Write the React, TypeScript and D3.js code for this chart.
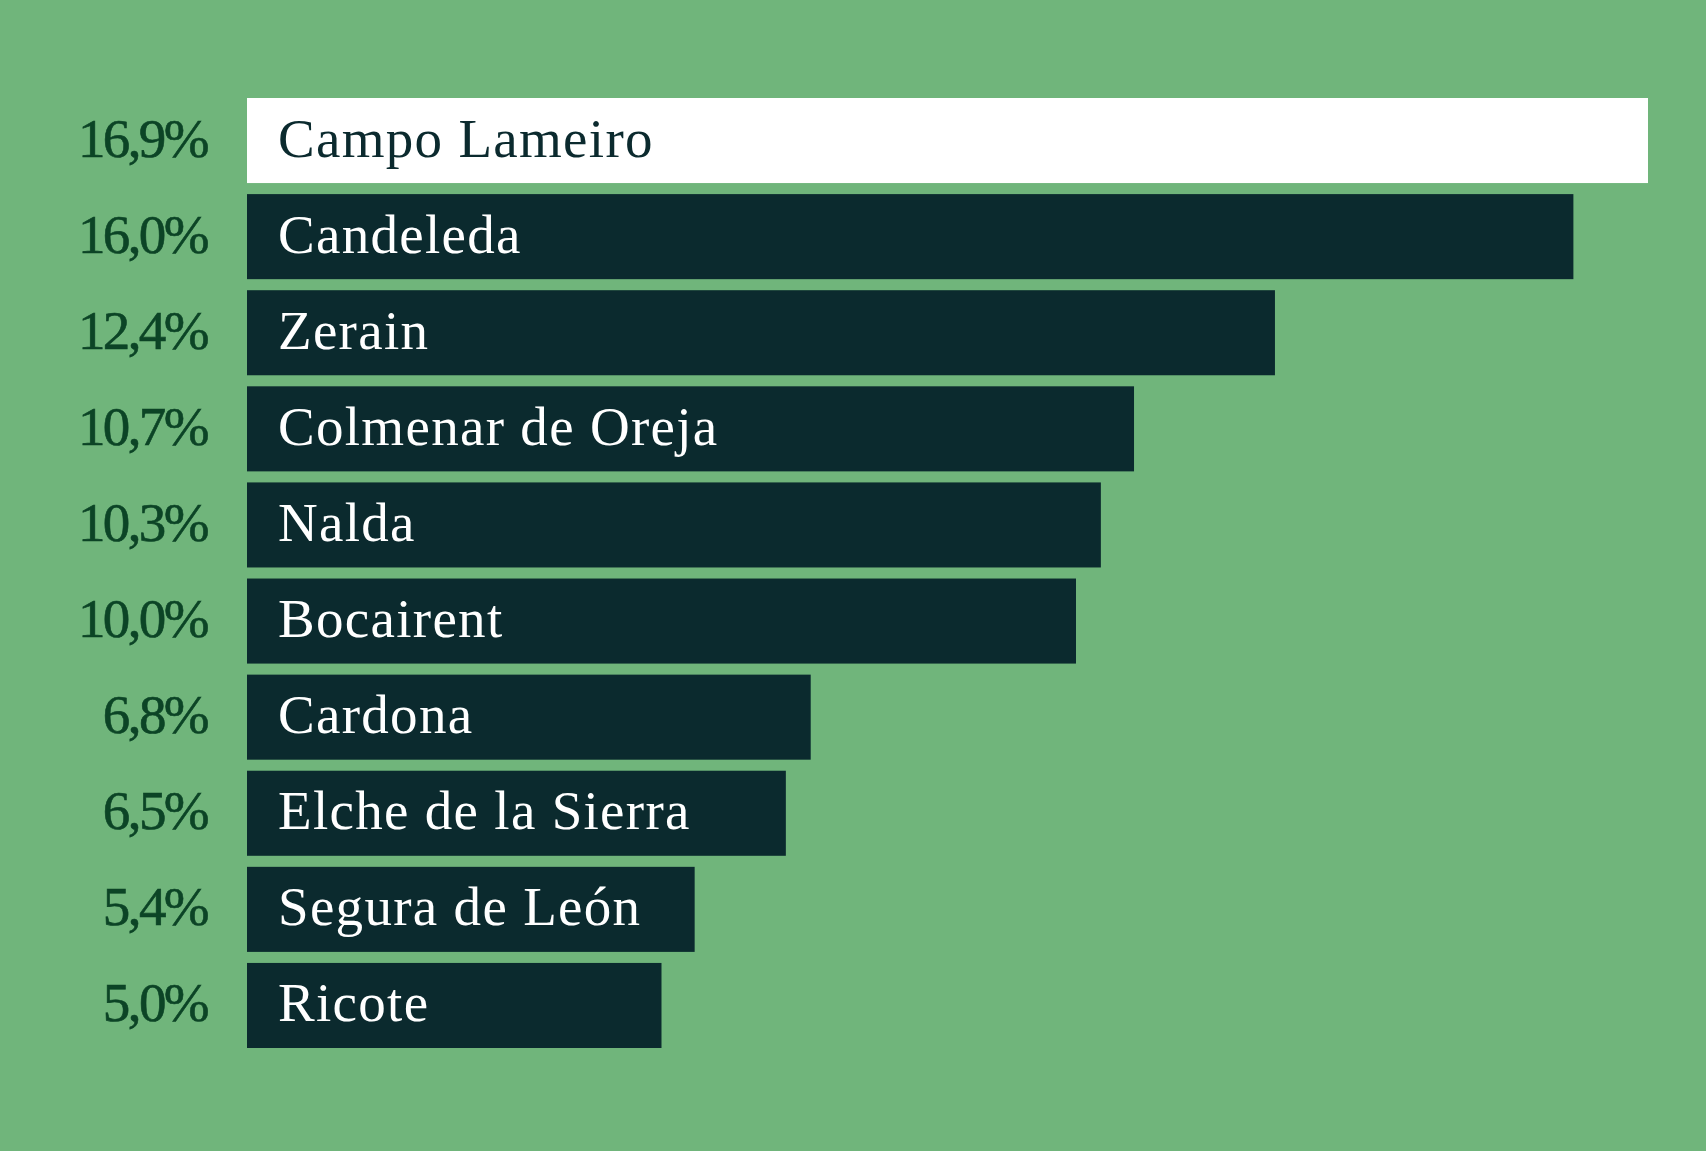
import { useRef, useEffect } from 'react';
import * as d3 from 'd3';

const municipalities = [
  'Campo Lameiro',
  'Candeleda',
  'Zerain',
  'Colmenar de Oreja',
  'Nalda',
  'Bocairent',
  'Cardona',
  'Elche de la Sierra',
  'Segura de León',
  'Ricote',
];

const shares = [16.9, 16.0, 12.4, 10.7, 10.3, 10.0, 6.8, 6.5, 5.4, 5.0];

const highlighted = ['Campo Lameiro'];

const WIDTH = 1706;
const HEIGHT = 1151;

const BG = '#70b57b';
const BAR_DARK = '#0b2a2e';
const BAR_LIGHT = '#ffffff';
const PCT_COLOR = '#0c4426';

const fmt = (v: number) => v.toFixed(1).replace('.', ',') + '%';

const RankingBars = () => {
  const svgRef = useRef<SVGSVGElement>(null);

  useEffect(() => {
    const svg = d3.select(svgRef.current)
      .attr('width', WIDTH)
      .attr('height', HEIGHT);

    svg.selectAll('*').remove();

    const rows = municipalities.map((name, i) => ({ name, value: shares[i] }));

    const x = d3.scaleLinear()
      .domain([0, d3.max(shares) as number])
      .range([247, 1648]);

    const y = d3.scaleBand()
      .domain(municipalities)
      .range([98, 1048])
      .paddingInner(0.115)
      .paddingOuter(0);

    svg.append('rect')
      .attr('width', WIDTH)
      .attr('height', HEIGHT)
      .attr('fill', BG);

    const row = svg.selectAll('g.row')
      .data(rows)
      .join('g')
      .attr('class', 'row');

    row.append('rect')
      .attr('x', x(0))
      .attr('y', d => y(d.name) as number)
      .attr('width', d => x(d.value) - x(0))
      .attr('height', y.bandwidth())
      .attr('fill', d => highlighted.includes(d.name) ? BAR_LIGHT : BAR_DARK);

    const baseline = (name: string) => (y(name) as number) + y.bandwidth() / 2 + 16;

    row.append('text')
      .attr('x', x(0) + 31)
      .attr('y', d => baseline(d.name))
      .attr('font-family', '"Liberation Serif", "DejaVu Serif", serif')
      .attr('font-size', 55)
      .attr('letter-spacing', 1.3)
      .attr('fill', d => highlighted.includes(d.name) ? BAR_DARK : '#ffffff')
      .text(d => d.name);

    row.append('text')
      .attr('x', 207)
      .attr('y', d => baseline(d.name))
      .attr('text-anchor', 'end')
      .attr('font-family', '"Liberation Serif", "DejaVu Serif", serif')
      .attr('font-size', 55)
      .attr('letter-spacing', -2.6)
      .attr('stroke', PCT_COLOR)
      .attr('stroke-width', 0.6)
      .attr('fill', PCT_COLOR)
      .text(d => fmt(d.value));
  }, []);

  return (
    <svg
      ref={svgRef}
      style={{ position: 'absolute', left: 0, top: 0, display: 'block' }}
    />
  );
};

export default function App() {
  return <RankingBars />;
}
